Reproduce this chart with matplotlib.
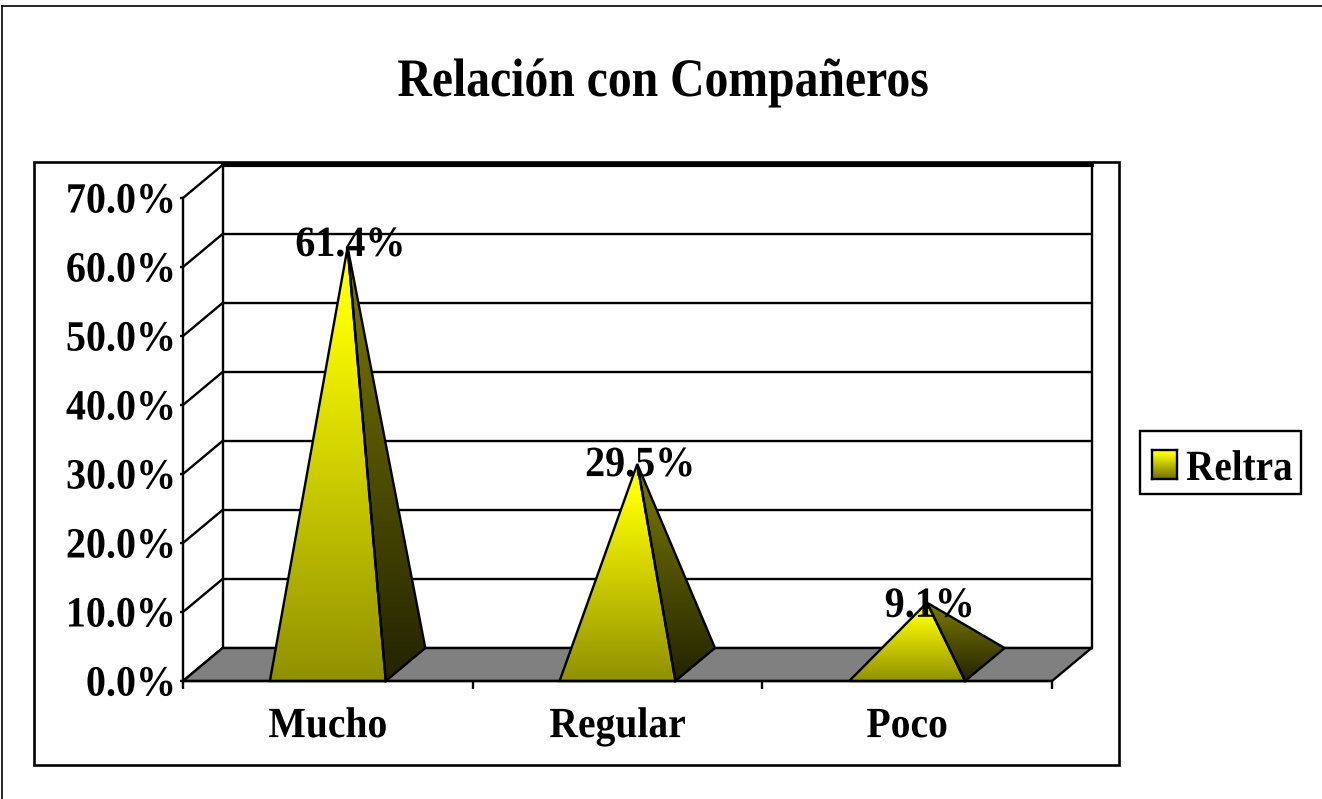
import numpy as np
from matplotlib import pyplot as plt
from matplotlib.lines import Line2D
from matplotlib.patches import Polygon, Rectangle
from matplotlib.patheffects import AbstractPathEffect
from matplotlib.transforms import Affine2D

categories = ["Mucho", "Regular", "Poco"]
values = [61.4, 29.5, 9.1]
value_labels = ["61.4%", "29.5%", "9.1%"]
y_ticks = [0, 10, 20, 30, 40, 50, 60, 70]
y_tick_labels = ["0.0%", "10.0%", "20.0%", "30.0%", "40.0%", "50.0%", "60.0%", "70.0%"]
series_name = "Reltra"
title = "Relación con Compañeros"

W, H = 1322, 799
FONT = "Liberation Serif"
LW = 1.7
TEXT_SIZE = 31

# depth of the fake 3d box, in data units
depth_x = 0.1365
depth_y = 4.78
half_base = 0.2

plt.rcParams["font.family"] = FONT
plt.rcParams["font.weight"] = "bold"


class Squeeze(AbstractPathEffect):
    # the original text is set tighter than the font, so narrow it a bit
    def __init__(self, sx, anchor):
        super().__init__()
        self.sx = sx
        self.anchor = anchor

    def draw_path(self, renderer, gc, tpath, affine, rgbFace=None):
        box = tpath.get_extents()
        x0 = box.x0 + self.anchor * box.width
        squeeze = Affine2D().translate(-x0, 0).scale(self.sx, 1).translate(x0, 0)
        renderer.draw_path(gc, tpath, squeeze + affine, rgbFace)


fig = plt.figure(figsize=(W / 100, H / 100), dpi=100, facecolor="white")


def fx(x):
    return x / W


def fy(y):
    return 1 - y / H


def gradient(top, bottom):
    # vertical colour ramp, top row first
    t = np.linspace(0, 1, 256)[:, None, None]
    ramp = (1 - t) * np.array(top) + t * np.array(bottom)
    return np.clip(ramp, 0, 255).astype(np.uint8)


# outer border (only top and left show) and the chart area box
fig.add_artist(Line2D([fx(1.5), fx(1.5)], [fy(799), fy(5.5)], color="black", lw=1.2))
fig.add_artist(Line2D([fx(1.5), fx(1322)], [fy(5.5), fy(5.5)], color="black", lw=1.2))
fig.add_artist(Rectangle((fx(33.5), fy(765)), 1085 / W, 603 / H, fill=False,
                         edgecolor="black", lw=LW + 0.2))

fig.text(fx(663), fy(96), title, ha="center", va="baseline", fontsize=39,
         path_effects=[Squeeze(0.88, 0.5)])

ax = fig.add_axes([fx(183), fy(681), (1052 - 183) / W, (681 - 198) / H])
ax.patch.set_alpha(0)

# walls and gridlines
for y in y_ticks:
    ax.plot([0, depth_x, 3 + depth_x], [y, y + depth_y, y + depth_y], color="black",
            lw=LW, clip_on=False, zorder=1, solid_joinstyle="miter")
top = y_ticks[-1] + depth_y
ax.plot([depth_x, 3 + depth_x], [top, top], color="black", lw=3, clip_on=False, zorder=1)
ax.plot([depth_x, depth_x], [depth_y, top], color="black", lw=LW, clip_on=False, zorder=1)
ax.plot([3 + depth_x, 3 + depth_x], [depth_y, top], color="black", lw=LW, clip_on=False, zorder=1)

# floor
ax.add_patch(Polygon([(0, 0), (3, 0), (3 + depth_x, depth_y), (depth_x, depth_y)],
                     closed=True, facecolor="#808080", edgecolor="black", lw=LW,
                     clip_on=False, zorder=2))

# pyramids
for i, v in enumerate(values):
    cx = i + 0.5
    apex = (cx + depth_x / 2, depth_y / 2 + v * 0.985)
    left = (cx - half_base, 0)
    right = (cx + half_base, 0)
    back = (cx + half_base + depth_x, depth_y)
    faces = [
        ([right, back, apex], (125, 125, 0), (35, 35, 0)),
        ([left, right, apex], (272, 272, 0), (145, 145, 0)),
    ]
    for pts, c_top, c_bottom in faces:
        xs = [p[0] for p in pts]
        im = ax.imshow(gradient(c_top, c_bottom), aspect="auto",
                       extent=[min(xs), max(xs), 0, apex[1]], zorder=3, clip_on=True)
        poly = Polygon(pts, closed=True, facecolor="none", edgecolor="black", lw=LW,
                       clip_on=False, zorder=4, joinstyle="miter")
        ax.add_patch(poly)
        im.set_clip_path(poly)
    ax.annotate(value_labels[i], (apex[0], v), xytext=(2, 1), textcoords="offset points",
                ha="center", va="baseline", fontsize=TEXT_SIZE, zorder=5, annotation_clip=False,
                path_effects=[Squeeze(0.93, 0.5)])

ax.set_xlim(0, 3)
ax.set_ylim(y_ticks[0], y_ticks[-1])

ax.spines["top"].set_visible(False)
ax.spines["right"].set_visible(False)
for side in ["left", "bottom"]:
    ax.spines[side].set_linewidth(LW)
    ax.spines[side].set_zorder(6)

ax.set_yticks(y_ticks, y_tick_labels)
ax.tick_params(axis="y", length=2.5, width=LW, pad=2.5, labelsize=TEXT_SIZE)
ax.set_xticks([i + 0.5 for i in range(len(categories))], categories)
ax.set_xticks(range(len(categories) + 1), minor=True)
ax.tick_params(axis="x", which="major", length=0, pad=19.5, labelsize=TEXT_SIZE)
ax.tick_params(axis="x", which="minor", length=6, width=LW)
for lab in ax.get_yticklabels():
    lab.set_path_effects([Squeeze(0.93, 1)])
for lab in ax.get_xticklabels():
    lab.set_path_effects([Squeeze(0.92, 0.5)])

# legend
fig.add_artist(Rectangle((fx(1140), fy(494)), 161 / W, 63 / H, fill=False,
                         edgecolor="black", lw=LW))
leg_ax = fig.add_axes([fx(1152), fy(479), 25 / W, 29 / H])
leg_ax.imshow(gradient((272, 272, 0), (110, 110, 0)), aspect="auto")
leg_ax.set_xticks([])
leg_ax.set_yticks([])
for sp in leg_ax.spines.values():
    sp.set_linewidth(LW)
fig.text(fx(1186), fy(480), series_name, ha="left", va="baseline", fontsize=TEXT_SIZE,
         path_effects=[Squeeze(0.91, 0)])

fig.savefig("out.png", dpi=100)
